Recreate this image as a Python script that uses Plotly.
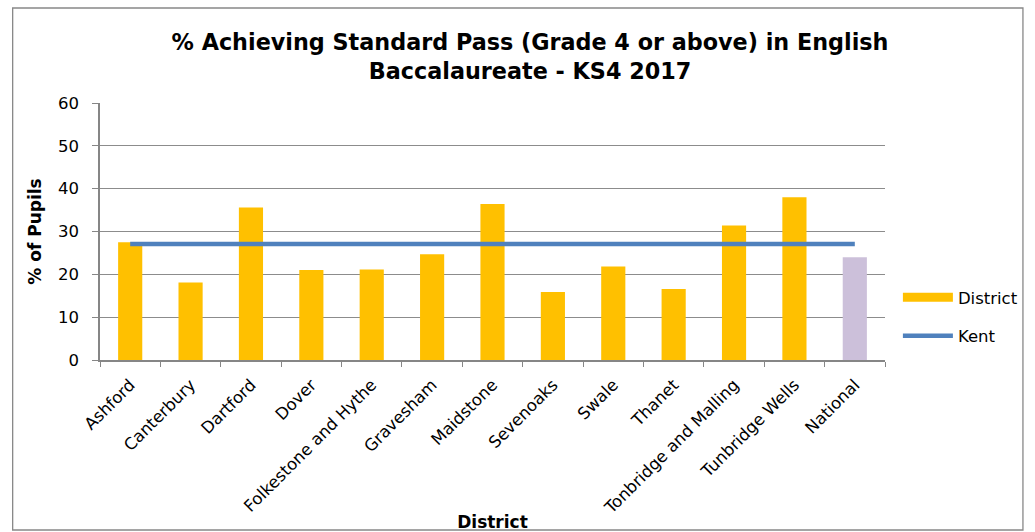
import plotly.graph_objects as go

districts = ["Ashford", "Canterbury", "Dartford", "Dover", "Folkestone and Hythe",
             "Gravesham", "Maidstone", "Sevenoaks", "Swale", "Thanet",
             "Tonbridge and Malling", "Tunbridge Wells", "National"]
pct_pass = [27.5, 18.1, 35.6, 21.0, 21.1, 24.7, 36.4, 15.9, 21.8, 16.6, 31.4, 38.0, 24.0]
kent = [27.1] * 13
bar_cols = ["#FFC000"] * 12 + ["#CCC0DA"]

W, H = 1035, 532
L, R, T, B = 100, 144, 103, 172
pw, ph = W - L - R, H - T - B

def px2paper(x, y):
    return (x - L) / pw, (H - B - y) / ph

fig = go.Figure()
fig.add_trace(go.Bar(x=districts, y=pct_pass, name="District", marker_color=bar_cols,
                     marker_line_width=0, showlegend=False))
# legend entry for bars drawn as a wide band like Excel
fig.add_trace(go.Scatter(x=[None], y=[None], name="District", mode="lines",
                         line=dict(color="#FFC000", width=9), legendgroup="a"))
fig.add_trace(go.Scatter(x=districts, y=kent, name="Kent", mode="lines",
                         line=dict(color="#4F81BD", width=4.5), legendgroup="b"))

x0, y0 = px2paper(12, 8)
x1, y1 = px2paper(1030, 530)
fig.add_shape(type="rect", xref="paper", yref="paper", x0=x0, y0=y0, x1=x1, y1=y1,
              line=dict(color="#888888", width=1.3), layer="below")

lx, ly = px2paper(904, 280)
fig.update_layout(
    width=W, height=H,
    margin=dict(l=L, r=R, t=T, b=B),
    paper_bgcolor="white", plot_bgcolor="white",
    font=dict(family="DejaVu Sans", size=14, color="black"),
    title=dict(text="<b>% Achieving Standard Pass (Grade 4 or above) in English<br>Baccalaureate - KS4 2017</b>",
               x=530 / W, xanchor="center", y=1 - 50 / H, yanchor="top",
               font=dict(size=22.3, family="DejaVu Sans")),
    bargap=0.6,
    showlegend=True,
    legend=dict(x=lx, y=ly, xanchor="left", yanchor="top", tracegroupgap=14,
                itemwidth=50, font=dict(size=16.5), bgcolor="rgba(0,0,0,0)"),
    xaxis=dict(showline=True, linecolor="#868686", linewidth=1.5, ticks="outside",
               tickson="boundaries", ticklen=5, tickcolor="#868686", tickangle=-45,
               tickfont=dict(size=16.5), ticklabelstandoff=7, automargin=False,
               title=dict(text="<b>District</b>", font=dict(size=17), standoff=4)),
    yaxis=dict(range=[0, 60], dtick=10, showgrid=True, gridcolor="#8C8C8C", gridwidth=1.2,
               showline=True, linecolor="#868686", linewidth=1.5, ticks="outside",
               ticklen=6, tickcolor="#868686", tickfont=dict(size=16.5),
               ticklabelstandoff=10, zeroline=False, automargin=False,
               title=dict(text="<b>% of Pupils</b>", font=dict(size=17), standoff=12)),
)
fig.write_html("out.html", config={"displayModeBar": False},
               post_script="document.body.style.margin='0';")
